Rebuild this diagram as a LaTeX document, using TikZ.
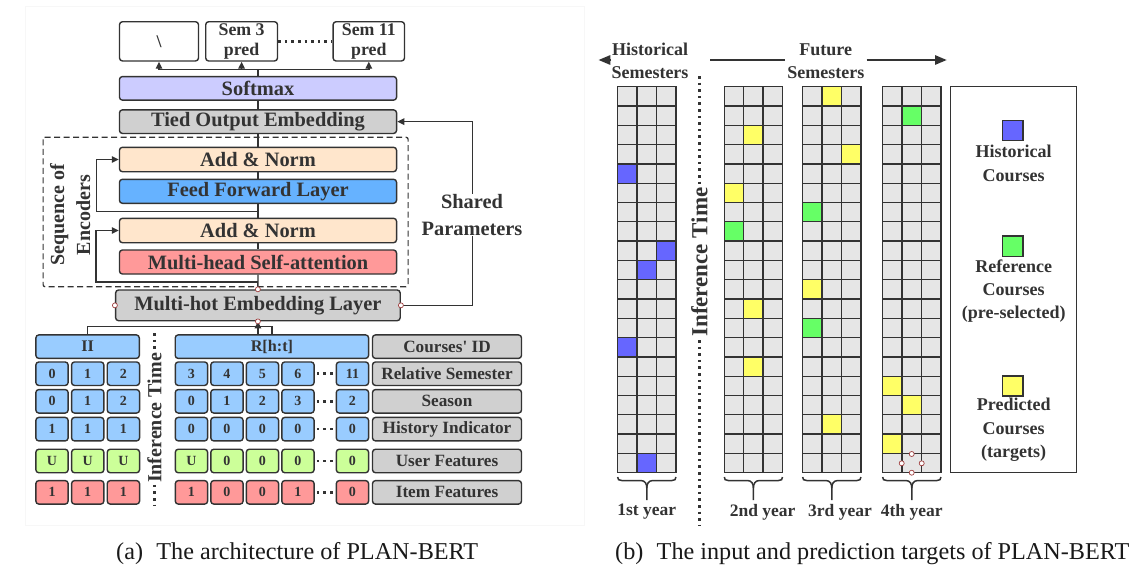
\documentclass[tikz,border=0pt]{standalone}
\usepackage{fontspec}
\setmainfont{Liberation Serif}
\usetikzlibrary{arrows.meta,calc}
\definecolor{dk}{HTML}{333333}
\definecolor{gry}{HTML}{D0D0D0}
\definecolor{lav}{HTML}{CCCCFF}
\definecolor{peach}{HTML}{FFE6CC}
\definecolor{ffb}{HTML}{66B2FF}
\definecolor{pink}{HTML}{FF9999}
\definecolor{lb}{HTML}{99CCFF}
\definecolor{lg}{HTML}{CCFF99}
\definecolor{cellg}{HTML}{E6E6E6}
\definecolor{hb}{HTML}{6666FF}
\definecolor{hg}{HTML}{66FF66}
\definecolor{hy}{HTML}{FFFF66}
\definecolor{hdlc}{HTML}{A04040}
\begin{document}
\begin{tikzpicture}[x=1pt,y=-1pt,
  box/.style={draw=dk,line width=1.4pt,rounded corners=3pt,inner sep=0pt,text=dk,align=center,font=\bfseries\fontsize{20.4}{24}\selectfont},
  bigbox/.style={box,minimum width=277.1,minimum height=23.6},
  predbox/.style={box,fill=white,minimum height=39.3,font=\bfseries\fontsize{17.8}{20}\selectfont},
  lab/.style={box,fill=gry,minimum width=149,minimum height=23.5,font=\bfseries\fontsize{17.2}{19}\selectfont},
  cell/.style={box,minimum width=32.3,minimum height=23.5,font=\bfseries\fontsize{14}{16}\selectfont},
  hdr/.style={box,minimum height=23.5,font=\bfseries\fontsize{16.2}{18}\selectfont},
  conn/.style={draw=dk,line width=1.4pt},
  arr/.style={conn,-{Triangle[length=7pt,width=6.5pt]}},
  dots/.style={draw=dk,line width=2.6pt,dash pattern=on 2.6pt off 4pt},
  txt/.style={text=dk,align=center,inner sep=1pt,font=\bfseries\fontsize{18}{23.3}\selectfont},
  gridc/.style={draw=dk,line width=1.3pt,fill=cellg},
  hdl/.style={draw=hdlc,fill=white,line width=0.7pt},
  thick arrow/.style={draw=dk,line width=2.7pt}
]
\fill[white] (0,0) rectangle (1133,587);
\useasboundingbox (0,0) rectangle (1133,587);
\draw[black!3,line width=0.8pt] (25,6) rectangle (584.3,525);

% ---------------- left panel ----------------
\node[predbox,minimum width=79] (bs) at (159,41.35) {\textbackslash};
\node[predbox,minimum width=71.8] (s3) at (241.6,41.35) {Sem 3\\pred};
\node[predbox,minimum width=71.4] (s11) at (368.8,41.35) {Sem 11\\pred};
\draw[dots] (s3.east) -- (s11.west);

\node[bigbox,fill=lav] (sm) at (258,88.35) {Softmax};
\node[bigbox,fill=gry] (tied) at (258,121.65) {Tied Output Embedding};
\node[bigbox,fill=peach,minimum height=24.4] (an1) at (258,159.5) {Add \& Norm};
\node[bigbox,fill=ffb,minimum height=24] (ff) at (258,191.3) {Feed Forward Layer};
\node[bigbox,fill=peach,minimum height=24.4] (an2) at (258,230.5) {Add \& Norm};
\node[bigbox,fill=pink,minimum height=24] (mhsa) at (258,262) {Multi-head Self-attention};
\node[box,fill=gry,minimum width=284.6,minimum height=30.7] (mh) at (257.9,305.35) {Multi-hot Embedding Layer};

\draw[dk,line width=1.2pt,dash pattern=on 6pt off 3.5pt,rounded corners=2pt] (43.1,137.3) rectangle (408.1,286.7);

\coordinate (j) at (258,69.3);
\draw[conn] (sm.north) -- (j);
\draw[arr] (j) -| (bs.south);
\draw[arr] (j) -| (s3.south);
\draw[arr] (j) -| (s11.south);
\draw[conn] (sm.south) -- (tied.north);
\draw[conn] (tied.south) -- (an1.north);
\draw[conn] (an1.south) -- (ff.north);
\draw[conn] (ff.south) -- (an2.north);
\draw[conn] (an2.south) -- (mhsa.north);
\draw[conn] (mhsa.south) -- (mh.north);
\coordinate (r1) at ($(ff.south)!0.55!(an2.north)$);
\coordinate (r2) at ($(mhsa.south)!0.5!(mh.north)$);
\draw[arr] (r1) -- ++(-161.8,0) |- (an1.west);
\draw[arr] (r2) -- ++(-161.8,0) |- (an2.west);

\node[txt,rotate=90,font=\bfseries\fontsize{20}{26}\selectfont] (seq) at (70.3,215) {Sequence of\\Encoders};

\draw[arr] (mh.east) -- ++(71.8,0) |- (tied.east);
\node[txt,fill=white,font=\bfseries\fontsize{20.4}{26.6}\selectfont] (sp) at (472,215) {Shared\\Parameters};

% input rows
\node[hdr,fill=lb,minimum width=103.4] (ii) at (87.6,346.65) {II};
\node[hdr,fill=lb,minimum width=193.4] (rr) at (271.9,346.65) {R[h:t]};
\node[lab] (cid) at (447,346.65) {Courses\textquotesingle\ ID};
\draw[conn] (ii.north) -- ++(0,-7.7) -| (rr.north);
\draw[arr] (mh.south |- ii.north) -- (mh.south);

\foreach \nm/\y/\fl/\la/\lb/\lc/\ra/\rb/\rc/\rd/\last/\lbl in {
  rs/373.7/lb/0/1/2/3/4/5/6/11/Relative Semester,
  se/401.3/lb/0/1/2/0/1/2/3/2/Season,
  hi/429.15/lb/1/1/1/0/0/0/0/0/History Indicator,
  uf/461/lg/U/U/U/U/0/0/0/0/User Features,
  it/492.35/pink/1/1/1/1/0/0/1/0/Item Features}{
  \node[cell,fill=\fl] (\nm-l1) at (52,\y) {\la};
  \node[cell,fill=\fl] (\nm-l2) at (87.7,\y) {\lb};
  \node[cell,fill=\fl] (\nm-l3) at (123.4,\y) {\lc};
  \node[cell,fill=\fl] (\nm-r1) at (191.45,\y) {\ra};
  \node[cell,fill=\fl] (\nm-r2) at (226.95,\y) {\rb};
  \node[cell,fill=\fl] (\nm-r3) at (262.45,\y) {\rc};
  \node[cell,fill=\fl] (\nm-r4) at (297.95,\y) {\rd};
  \node[cell,fill=\fl] (\nm-r5) at (352.45,\y) {\last};
  \draw[dots,shorten <=2pt,shorten >=1pt] (\nm-r4.east) -- (\nm-r5.west);
  \node[lab] (\nm-lab) at (447,\y) {\lbl};
}

\coordinate (inf1a) at (154.3,333);
\coordinate (inf1b) at (154.3,505);
\draw[dots] (inf1a) -- (inf1b);
\node[txt,rotate=90,fill=white,font=\bfseries\fontsize{20}{24}\selectfont] (inf1) at (154.3,418) {Inference Time};

\draw[hdl] (mh.north) circle (2.5);
\draw[hdl] (mh.south) circle (2.5);
\draw[hdl] (mh.west) circle (2.5);
\draw[hdl] (mh.east) circle (2.5);

% ---------------- right panel ----------------
\foreach \gx in {617.7,724.3,802.7,882.7}{
  \foreach \r in {0,...,19}{
    \foreach \c in {0,1,2}{
      \draw[gridc] ({\gx+\c*19.4},{86.7+\r*19.3}) rectangle ++(19.4,19.3);
    }
  }
  \draw[conn,line width=1.5pt] (\gx,477) .. controls (\gx,479.5) and (\gx+1,480.5) .. (\gx+4,480.5) -- (\gx+23,480.5) .. controls (\gx+27.5,480.5) and (\gx+29.1,484) .. (\gx+29.1,488) -- (\gx+29.1,500);
  \draw[conn,line width=1.5pt] (\gx+58.2,477) .. controls (\gx+58.2,479.5) and (\gx+57.2,480.5) .. (\gx+54.2,480.5) -- (\gx+35.2,480.5) .. controls (\gx+30.7,480.5) and (\gx+29.1,484) .. (\gx+29.1,488);
}
\foreach \gx/\r/\c/\col in {
  617.7/4/0/hb, 617.7/8/2/hb, 617.7/9/1/hb, 617.7/13/0/hb, 617.7/19/1/hb,
  724.3/2/1/hy, 724.3/5/0/hy, 724.3/7/0/hg, 724.3/11/1/hy, 724.3/14/1/hy,
  802.7/0/1/hy, 802.7/3/2/hy, 802.7/6/0/hg, 802.7/10/0/hy, 802.7/12/0/hg, 802.7/17/1/hy,
  882.7/1/1/hg, 882.7/15/0/hy, 882.7/16/1/hy, 882.7/18/0/hy}{
  \draw[gridc,fill=\col] ({\gx+\c*19.4},{86.7+\r*19.3}) rectangle ++(19.4,19.3);
}
\draw[hdl] (911.7,454) circle (2.5);
\draw[hdl] (901.7,463.3) circle (2.5);
\draw[hdl] (921.7,463.3) circle (2.5);
\draw[hdl] (911.7,472.7) circle (2.5);

\node[txt,font=\bfseries\fontsize{17.5}{20}\selectfont] (y1) at (646.7,512) {1st year};
\node[txt,font=\bfseries\fontsize{17.5}{20}\selectfont] (y2) at (762.7,512) {2nd year};
\node[txt,font=\bfseries\fontsize{17.5}{20}\selectfont] (y3) at (840,512) {3rd year};
\node[txt,font=\bfseries\fontsize{17.5}{20}\selectfont] (y4) at (911.7,512) {4th year};

\node[txt] (hist) at (650,60.5) {Historical\\Semesters};
\node[txt] (fut) at (825.8,61) {Future\\Semesters};
\coordinate (ha) at (611,60);
\coordinate (hb0) at (598.3,60);
\coordinate (fa) at (710,60);
\coordinate (fb) at (785,60);
\coordinate (fc) at (866.7,60);
\coordinate (fd) at (947,60);
\draw[thick arrow,-{Triangle[length=12pt,width=9pt]}] (ha) -- (hb0);
\draw[thick arrow] (fa) -- (fb);
\draw[thick arrow,-{Triangle[length=12pt,width=9pt]}] (fc) -- (fd);

\coordinate (inf2a) at (699.3,76);
\coordinate (inf2b) at (699.3,526);
\draw[dots] (inf2a) -- (inf2b);
\node[txt,rotate=90,fill=white,font=\bfseries\fontsize{23}{26}\selectfont] (inf2) at (699.3,262) {Inference Time};

% legend
\node[draw=dk,line width=1.4pt,minimum width=126,minimum height=386,inner sep=0pt] (leg) at (1013.7,279.7) {};
\node[draw=dk,line width=1.4pt,fill=hb,minimum size=20.3,inner sep=0pt] (lsq1) at (1012.7,130.5) {};
\node[draw=dk,line width=1.4pt,fill=hg,minimum size=20.3,inner sep=0pt] (lsq2) at (1012.7,246.3) {};
\node[draw=dk,line width=1.4pt,fill=hy,minimum size=20.3,inner sep=0pt] (lsq3) at (1012.7,386) {};
\node[txt] (lt1) at (1013.7,163.3) {Historical\\Courses};
\node[txt] (lt2) at (1013.7,291) {Reference\\Courses\\(pre-selected)};
\node[txt] (lt3) at (1013.7,430) {Predicted\\Courses\\(targets)};

% captions
\node[anchor=base west,inner sep=0pt,text=black!90,font=\fontsize{24.2}{26}\selectfont] (capa) at (116,559) {(a)\hspace{0.3em} The architecture of PLAN-BERT};
\node[anchor=base west,inner sep=0pt,text=black!90,font=\fontsize{24.2}{26}\selectfont] (capb) at (615,559) {(b)\hspace{0.3em} The input and prediction targets of PLAN-BERT};
\end{tikzpicture}
\end{document}
